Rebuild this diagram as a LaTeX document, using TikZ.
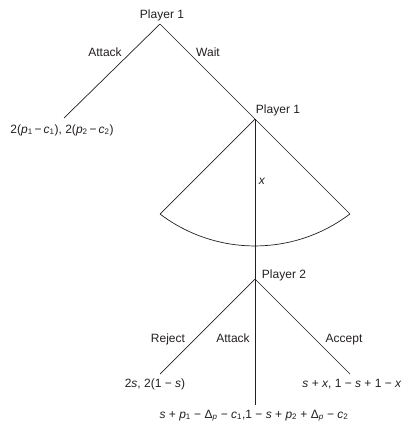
\documentclass[tikz,border=0pt]{standalone}
\usepackage{fontspec}
\setmainfont{Liberation Sans}
\usetikzlibrary{positioning}
\definecolor{ink}{HTML}{231F20}
\tikzset{
  every node/.style = {font=\fontsize{12}{14}\selectfont, text=ink},
  gtedge/.style  = {draw=ink, line width=0.7pt},
  gtvert/.style  = {inner sep=0pt, minimum size=0pt},
  gtplay/.style  = {inner sep=0pt, anchor=base},
  gtmove/.style  = {inner sep=0pt, anchor=base},
  gtpay/.style   = {inner sep=0pt, anchor=base},
}
\newcommand{\gv}[1]{\textit{#1}}
\newcommand{\gs}[1]{\textsubscript{#1}}

\begin{document}
\begin{tikzpicture}[x=1pt, y=-1pt]
\useasboundingbox (0,0) rectangle (407,421);

\coordinate (root) at (160,24);
\coordinate (dec)  at (255,119);
\coordinate (resp) at (255,279);
\coordinate (lfA)  at (64,118);
\coordinate (wl)   at (160,214);
\coordinate (wr)   at (350,214);
\coordinate (lfR)  at (160,374);
\coordinate (lfC)  at (350,374);
\coordinate (lfB)  at (255,405);

\node[gtplay] (p1top) at (162,18)  {Player 1};
\node[gtplay] (p1mid) at (278,113) {Player 1};
\node[gtplay] (p2)    at (284,278) {Player 2};

\node[gtmove] (mAtk)  at (105,56)  {Attack};
\node[gtmove] (mWait) at (208,56)  {Wait};
\node[gtmove] (mx)    at (262,184) {\gv{x}};
\node[gtmove] (mRej)  at (168,342) {Reject};
\node[gtmove] (mAtk2) at (233,342) {Attack};
\node[gtmove] (mAcc)  at (344,342) {Accept};

\node[gtpay] (payA) at (62,133)
  {2(\gv{p}\gs{1}\,−\,\gv{c}\gs{1}), 2(\gv{p}\gs{2}\,−\,\gv{c}\gs{2})};
\node[gtpay] (payR) at (155,387) {2\gv{s}, 2(1 − \gv{s})};
\node[gtpay] (payC) at (352,387) {\gv{s} + \gv{x}, 1 − \gv{s} + 1 − \gv{x}};
\node[gtpay] (payB) at (254,418)
  {\gv{s} + \gv{p}\gs{1} − Δ\gs{\gv{p}} − \gv{c}\gs{1},1 − \gv{s} + \gv{p}\gs{2} + Δ\gs{\gv{p}} − \gv{c}\gs{2}};

\draw[gtedge] (root) -- (lfA);
\draw[gtedge] (root) -- (dec);
\draw[gtedge] (dec) -- (wl);
\draw[gtedge] (dec) -- (wr);
\draw[gtedge] (wl) arc[start angle=127.2, end angle=52.8, radius=157];
\draw[gtedge] (dec) -- (lfB);
\draw[gtedge] (resp) -- (lfR);
\draw[gtedge] (resp) -- (lfC);
\end{tikzpicture}
\end{document}
